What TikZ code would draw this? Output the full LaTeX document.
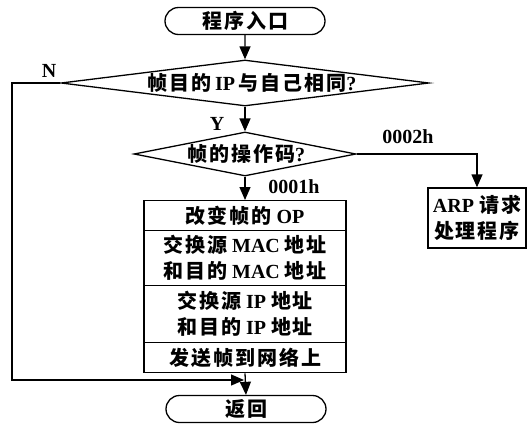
\documentclass[tikz,border=0pt]{standalone}
\usepackage{fontspec}
\setmainfont{Liberation Serif}
\newfontfamily\cjkf[LetterSpace=10]{Noto Sans CJK SC Bold}
\newcommand\zhtxt[1]{{\cjkf #1}}
\usetikzlibrary{shapes.geometric,shapes.misc,arrows.meta}
\begin{document}
\begin{tikzpicture}[x=1pt,y=-1pt,
  every node/.style={font=\bfseries\fontsize{20}{26}\selectfont, inner sep=0pt},
  arr/.style={line width=1.3pt,-{Triangle[length=13pt,width=11pt]}},
  term/.style={draw,line width=1.3pt,rounded rectangle,minimum width=160pt,minimum height=27pt},
  dia/.style={draw,line width=1.3pt,diamond,inner sep=0pt},
  box/.style={draw,line width=1.3pt,rectangle,minimum width=202pt,anchor=north,align=center}]
\useasboundingbox (0,0) rectangle (530,426);

\node[term] (start) at (245,21) {\zhtxt{程序入口}};
\node[dia,minimum width=368pt,minimum height=46pt] (d1) at (245,83) {};
\node (t1) at (252,83) {\zhtxt{帧目的}\,IP\,\zhtxt{与自己相同}?};
\node[dia,minimum width=222pt,minimum height=44pt] (d2) at (245,154) {};
\node (t2) at (246,154) {\zhtxt{帧的操作码}?};

\node[box,minimum height=30pt] (r1) at (245,200) {\zhtxt{改变帧的} OP};
\node[box,minimum height=55pt] (r2) at (245,230) {\zhtxt{交换源} MAC \zhtxt{地址}\\\zhtxt{和目的} MAC \zhtxt{地址}};
\node[box,minimum height=57pt] (r3) at (245,285) {\zhtxt{交换源} IP \zhtxt{地址}\\\zhtxt{和目的} IP \zhtxt{地址}};
\node[box,minimum height=30pt] (r4) at (245,342) {\zhtxt{发送帧到网络上}};

\node[draw,line width=1.3pt,rectangle,minimum width=98pt,minimum height=60pt,align=center] (arp) at (477,218) {ARP \zhtxt{请求}\\\zhtxt{处理程序}};
\node[term] (ret) at (246,409) {\zhtxt{返回}};

\node (lN) at (49,71) {N};
\node (lY) at (217,124) {Y};
\node (l2) at (408,137) {0002h};
\node (l1) at (294,187) {0001h};

\coordinate (corner) at (12,380);
\coordinate (merge) at (244,380);

\draw[arr] (start) -- (d1.north);
\draw[arr] (d1.south) -- (d2.north);
\draw[arr] (d2.east) -| (arp.north);
\draw[arr] (d2.south) -- (r1.north);
\draw[arr] (r4.south) -- (ret.north);
\draw[arr] (d1.west) -| (corner) -- (merge);
\end{tikzpicture}
\end{document}
